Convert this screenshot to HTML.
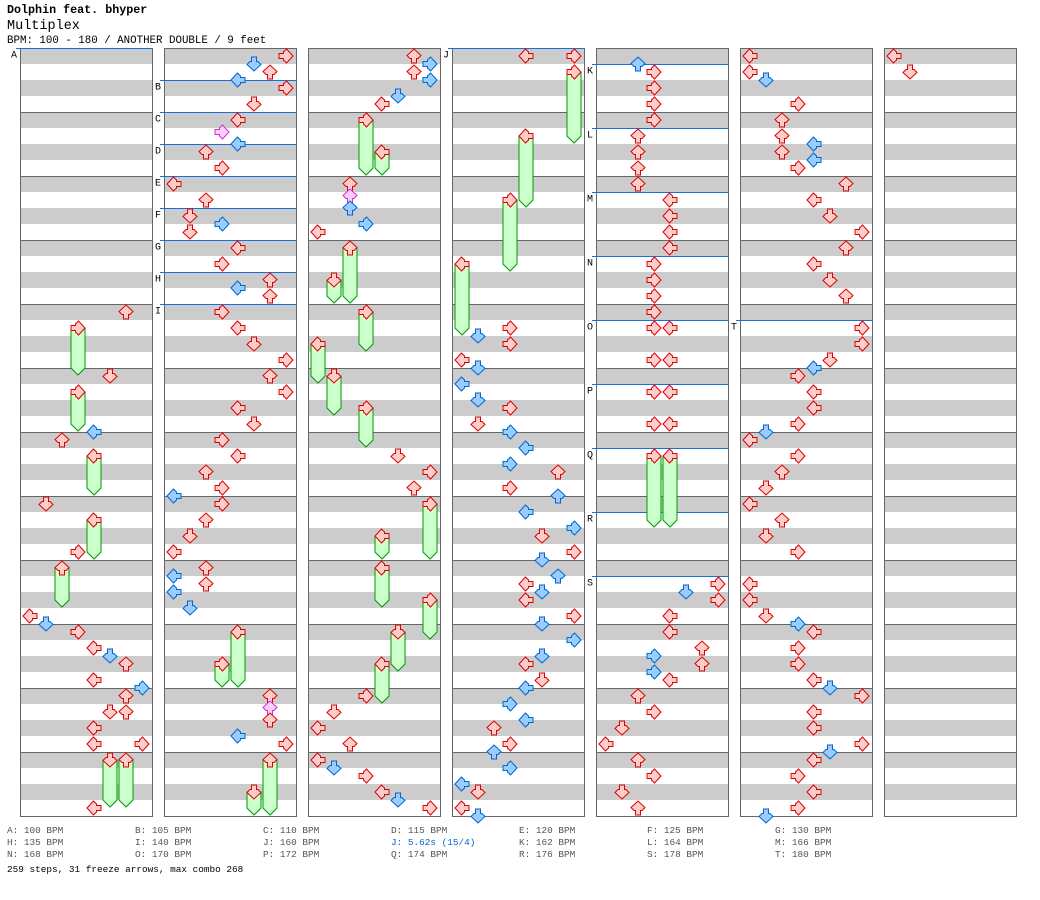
<!DOCTYPE html>
<html><head><meta charset="utf-8">
<style>
body{margin:0;background:#fff;width:1040px;height:900px;overflow:hidden;font-family:"Liberation Mono",monospace;}
#hdr div{position:absolute;left:7px;white-space:pre;}
.ft{position:absolute;font-size:9.4px;color:#555;white-space:pre;}
</style></head><body>
<div id="hdr">
<div style="top:3px;font-size:11.7px;font-weight:bold;">Dolphin feat. bhyper</div>
<div style="top:19px;font-size:13.5px;">Multiplex</div>
<div style="top:35px;font-size:10.8px;">BPM: 100 - 180 / ANOTHER DOUBLE / 9 feet</div>
</div>
<svg id="chart" width="1040" height="900" style="position:absolute;left:0;top:0"></svg>
<div id="foot"></div>
<script>
// Note data per column: "lane@beat+type" (r=quarter red, b=eighth blue, p=sixteenth pink)
const col1Notes="6@16.5r 5@20.5r 2@24.5r 4@24b 1@28.5r 3@31.5r 0@35.5r 1@36b 3@36.5r 4@37.5r 5@38b 6@38.5r 4@39.5r 7@40b 6@40.5r 5@41.5r 6@41.5r 4@42.5r 4@43.5r 7@43.5r 4@47.5r";
const col2Notes="7@0.5r 5@1b 6@1.5r 4@2b 7@2.5r 5@3.5r 4@4.5r 3@5.25p 2@6.5r 4@6b 3@7.5r 0@8.5r 2@9.5r 1@10.5r 3@11b 1@11.5r 4@12.5r 3@13.5r 4@15b 6@14.5r 6@15.5r 3@16.5r 4@17.5r 5@18.5r 7@19.5r 6@20.5r 7@21.5r 4@22.5r 5@23.5r 3@24.5r 4@25.5r 2@26.5r 3@27.5r 0@28b 3@28.5r 2@29.5r 1@30.5r 0@31.5r 0@33b 2@32.5r 2@33.5r 0@34b 1@35b 6@40.5r 6@41.25p 6@42r 7@43.5r 4@43b";
const col3Notes="6@0.5r 7@1b 6@1.5r 7@2b 5@3b 4@3.5r 2@8.5r 2@9.25p 2@10b 3@11b 0@11.5r 5@25.5r 7@26.5r 6@27.5r 3@40.5r 1@41.5r 0@42.5r 2@43.5r 0@44.5r 1@45b 3@45.5r 4@46.5r 5@47b 7@47.5r";
const col4Notes="4@0.5r 7@0.5r 1@18b 3@17.5r 3@18.5r 0@19.5r 1@20b 0@21b 1@22b 3@22.5r 1@23.5r 3@24b 4@25b 3@26b 6@26.5r 3@27.5r 6@28b 4@29b 7@30b 5@30.5r 7@31.5r 5@32b 6@33b 4@33.5r 5@34b 4@34.5r 7@35.5r 5@36b 7@37b 5@38b 4@38.5r 5@39.5r 4@40b 3@41b 4@42b 2@42.5r 3@43.5r 2@44b 3@45b 0@46b 1@46.5r 0@47.5r 1@48b";
const col5Notes="2@1b 3@1.5r 3@2.5r 3@3.5r 3@4.5r 2@5.5r 2@6.5r 2@7.5r 2@8.5r 4@9.5r 4@10.5r 4@11.5r 4@12.5r 3@13.5r 3@14.5r 3@15.5r 3@16.5r 3@17.5r 4@17.5r 3@19.5r 4@19.5r 3@21.5r 4@21.5r 3@23.5r 4@23.5r 7@33.5r 5@34b 7@34.5r 4@35.5r 4@36.5r 6@37.5r 3@38b 6@38.5r 3@39b 4@39.5r 2@40.5r 3@41.5r 1@42.5r 0@43.5r 2@44.5r 3@45.5r 1@46.5r 2@47.5r";
const col6Notes="0@0.5r 0@1.5r 1@2b 3@3.5r 2@4.5r 2@5.5r 4@6b 2@6.5r 4@7b 3@7.5r 6@8.5r 4@9.5r 5@10.5r 7@11.5r 6@12.5r 4@13.5r 5@14.5r 6@15.5r 7@17.5r 7@18.5r 5@19.5r 4@20b 3@20.5r 4@21.5r 4@22.5r 3@23.5r 1@24b 0@24.5r 3@25.5r 2@26.5r 1@27.5r 0@28.5r 2@29.5r 1@30.5r 3@31.5r 0@33.5r 0@34.5r 1@35.5r 3@36b 4@36.5r 3@37.5r 3@38.5r 4@39.5r 5@40b 7@40.5r 4@41.5r 4@42.5r 7@43.5r 5@44b 4@44.5r 3@45.5r 4@46.5r 3@47.5r 1@48b";
const col7Notes="0@0.5r 1@1.5r";
// Freeze arrows per column: "lane@startBeat-endBeat"
const col1Freezes="3@17.5-20 3@21.5-23.5 4@25.5-27.5 4@29.5-31.5 2@32.5-34.5 5@44.5-47 6@44.5-47";
const col2Freezes="4@36.5-39.5 3@38.5-39.5 6@44.5-47.5 5@46.5-47.5";
const col3Freezes="3@4.5-7.5 4@6.5-7.5 2@12.5-15.5 1@14.5-15.5 3@16.5-18.5 0@18.5-20.5 1@20.5-22.5 3@22.5-24.5 7@28.5-31.5 4@30.5-31.5 4@32.5-34.5 7@34.5-36.5 5@36.5-38.5 4@38.5-40.5";
const col4Freezes="7@1.5-5.5 4@5.5-9.5 3@9.5-13.5 0@13.5-17.5";
const col5Freezes="3@25.5-29.5 4@25.5-29.5";
const col6Freezes="";
const col7Freezes="";
// BPM change markers: label, column, beat
const bpmLabels=["A","B","C","D","E","F","G","H","I","J","K","L","M","N","O","P","Q","R","S","T"];
const bpmCols=[0,1,1,1,1,1,1,1,1,3,4,4,4,4,4,4,4,4,4,5];
const bpmBeats=[0,2,4,6,8,10,12,14,16,0,1,5,9,13,17,21,25,29,33,17];
const bpmTexts=["A: 100 BPM","B: 105 BPM","C: 110 BPM","D: 115 BPM","E: 120 BPM","F: 125 BPM","G: 130 BPM","H: 135 BPM","I: 140 BPM","J: 160 BPM","J: 5.62s (15/4)","K: 162 BPM","L: 164 BPM","M: 166 BPM","N: 168 BPM","O: 170 BPM","P: 172 BPM","Q: 174 BPM","R: 176 BPM","S: 178 BPM","T: 180 BPM"];
const summary="259 steps, 31 freeze arrows, max combo 268";

const allNotes=[col1Notes,col2Notes,col3Notes,col4Notes,col5Notes,col6Notes,col7Notes];
const allFreezes=[col1Freezes,col2Freezes,col3Freezes,col4Freezes,col5Freezes,col6Freezes,col7Freezes];
const NS="http://www.w3.org/2000/svg";
const svg=document.getElementById('chart');
const TOP=48,BEAT=16,COLW=132,COLSTEP=144,LEFT0=20,LANEW=16;
const colX=c=>LEFT0+c*COLSTEP;
const laneX=(c,l)=>colX(c)+10+l*LANEW;
const beatY=b=>TOP+b*BEAT;
function mk(tag,attrs,parent){const e=document.createElementNS(NS,tag);for(const k in attrs)e.setAttribute(k,attrs[k]);(parent||svg).appendChild(e);return e;}
const COLORS={r:["#ffcccc","#dd0000"],b:["#99ccff","#0066cc"],p:["#ffccff","#cc33cc"]};
const ROT=[0,270,90,180];
const ARROW="-7,0 -0.5,-7 2.5,-4 2.5,-2.5 7,-2.5 7,2.5 2.5,2.5 2.5,4 -0.5,7";
for(let c=0;c<7;c++){
  const g=mk('g',{});
  
  
  for(let i=0;i<48;i++){
    mk('rect',{x:colX(c),y:beatY(i),width:COLW,height:BEAT,fill:(i%2==0)?"#cccccc":"#ffffff"},g);
  }
  for(let m=1;m<12;m++) mk('line',{x1:colX(c),x2:colX(c)+COLW,y1:beatY(m*4)+0.5,y2:beatY(m*4)+0.5,stroke:"#666",'stroke-width':1},g);
  mk('rect',{x:colX(c)+0.5,y:TOP+0.5,width:COLW,height:48*BEAT,fill:"none",stroke:"#666",'stroke-width':1},g);
}
for(let i=0;i<bpmLabels.length;i++){
  const c=bpmCols[i],y=beatY(bpmBeats[i])+0.5;
  const ln=mk('line',{x1:colX(c)-4,x2:colX(c)+COLW,y1:y,y2:y,stroke:"#1a6fd6",'stroke-width':1});
  
  
  const t=mk('text',{x:colX(c)-9,y:y+9,'font-size':10,'font-family':'Liberation Mono, monospace',fill:"#000"});
  
  
  t.textContent=bpmLabels[i];
}
function arrow(c,l,b,type,g){
  const [f,s]=COLORS[type];
  return mk('polygon',{points:ARROW,fill:f,stroke:s,'stroke-width':1,transform:`translate(${laneX(c,l)},${beatY(b)}) rotate(${ROT[l%4]})`},g);
}
allFreezes.forEach((str,c)=>{
  if(!str)return;
  str.split(' ').forEach(tok=>{
    const [l,rng]=tok.split('@');const [b1,b2]=rng.split('-').map(Number);const lane=+l;
    const x=laneX(c,lane),y1=beatY(b1),y2=beatY(b2);
    const g=mk('g',{});
    
    
    mk('polygon',{points:`${x-7},${y1} ${x+7},${y1} ${x+7},${y2} ${x},${y2+7} ${x-7},${y2}`,fill:"#ccffcc",stroke:"#009900",'stroke-width':1},g);
    arrow(c,lane,b1,'r',g);
  });
});
allNotes.forEach((str,c)=>{
  if(!str)return;
  str.split(' ').forEach(tok=>{
    const [l,rest]=tok.split('@');const type=rest.slice(-1);const b=parseFloat(rest);
    const p=arrow(c,+l,b,type);
    
    
  });
});
const foot=document.getElementById('foot');
bpmTexts.forEach((t,i)=>{
  const d=document.createElement('div');
  d.className='ft';
  
  
  const col=i%7,row=Math.floor(i/7);
  d.style.left=(7+col*128)+'px';d.style.top=(825+row*12)+'px';
  if(t.indexOf('s (')>0)d.style.color='#0066cc';
  d.textContent=t;foot.appendChild(d);
});
const s=document.createElement('div');
s.className='ft';s.style.color='#000';s.style.left='7px';s.style.top='864px';


s.textContent=summary;foot.appendChild(s);
</script>
</body></html>
